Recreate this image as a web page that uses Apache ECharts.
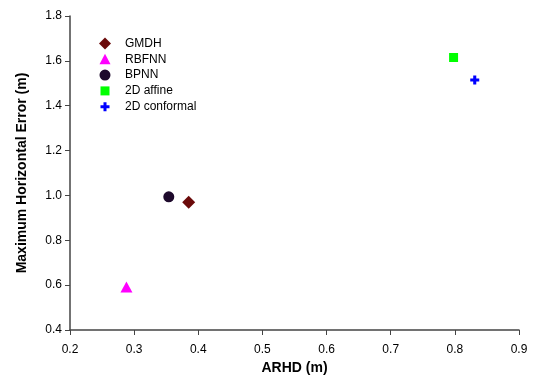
<!DOCTYPE html>
<html>
<head>
<meta charset="utf-8">
<script src="https://cdn.jsdelivr.net/npm/echarts@6/dist/echarts.min.js"></script>
<style>html,body{margin:0;padding:0;background:#fff}#c{width:537px;height:384px}</style>
</head>
<body>
<div id="c"></div>
<script>
const seriesNames = ['GMDH', 'RBFNN', 'BPNN', '2D affine', '2D conformal'];
const arhd = [0.385, 0.288, 0.354, 0.798, 0.831];
const maxErr = [0.97, 0.592, 0.994, 1.615, 1.515];
const xTicks = [0.2, 0.3, 0.4, 0.5, 0.6, 0.7, 0.8, 0.9];
const yTicks = [0.4, 0.6, 0.8, 1.0, 1.2, 1.4, 1.6, 1.8];

const colors = ['#6B0A0A', '#FF00FF', '#1E0A2C', '#00FF00', '#0000FF'];
const symbols = ['diamond', 'triangle', 'circle', 'rect', 'path://M3.3,0H6.7V3.3H10V6.7H6.7V10H3.3V6.7H0V3.3H3.3Z'];
const legendIcons = [
  'path://M0,0 M12,12 M6,0L12,6L6,12L0,6Z',
  'path://M0,0 M12,12 M6,0.5L11.5,11L0.5,11Z',
  'path://M0,0 M12,12 M6,0.5A5.5,5.5,0,1,1,5.99,0.5Z',
  'path://M0,0 M12,12 M1.5,1.5H10.5V10.5H1.5Z',
  'path://M0,0 M12,12 M4.5,1.5H7.5V4.5H10.5V7.5H7.5V10.5H4.5V7.5H1.5V4.5H4.5Z'
];
const sizes = [[13, 13], [12, 11], [11, 11], [9, 9], [9, 9]];

const chart = echarts.init(document.getElementById('c'));
const font = 'Liberation Sans, Arial, sans-serif';
chart.setOption({
  animation: false,
  backgroundColor: '#fff',
  grid: { left: 70, right: 18, top: 16, bottom: 54 },
  legend: {
    orient: 'vertical', left: 94, top: 32.5,
    itemWidth: 12, itemHeight: 12, itemGap: 3.8,
    data: seriesNames.map((n, i) => ({ name: n, icon: legendIcons[i] })),
    textStyle: { fontFamily: font, fontSize: 12, color: '#000', padding: [0, 0, 0, 9] }
  },
  xAxis: {
    type: 'value', min: xTicks[0], max: xTicks[xTicks.length - 1], interval: 0.1,
    name: 'ARHD (m)', nameLocation: 'middle', nameGap: 31,
    nameTextStyle: { fontFamily: font, fontSize: 14, fontWeight: 'bold', color: '#000' },
    axisLine: { lineStyle: { color: '#444', width: 1.5 } },
    axisTick: { show: true, length: 5, lineStyle: { color: '#444' } },
    axisLabel: { fontFamily: font, fontSize: 12, color: '#000', margin: 14, formatter: v => v.toFixed(1) },
    splitLine: { show: false }
  },
  yAxis: {
    type: 'value', min: yTicks[0], max: yTicks[yTicks.length - 1], interval: 0.2,
    name: 'Maximum Horizontal Error (m)', nameLocation: 'middle', nameGap: 41,
    nameTextStyle: { fontFamily: font, fontSize: 14, fontWeight: 'bold', color: '#000' },
    axisLine: { show: true, lineStyle: { color: '#444', width: 1.5 } },
    axisTick: { show: true, length: 5, lineStyle: { color: '#444' } },
    axisLabel: { fontFamily: font, fontSize: 12, color: '#000', margin: 8, formatter: v => v.toFixed(1) },
    splitLine: { show: false }
  },
  series: seriesNames.map((n, i) => ({
    name: n, type: 'scatter',
    symbol: symbols[i], symbolSize: sizes[i],
    itemStyle: { color: colors[i], opacity: 1 },
    data: [[arhd[i], maxErr[i]]]
  }))
});
</script>
</body>
</html>
